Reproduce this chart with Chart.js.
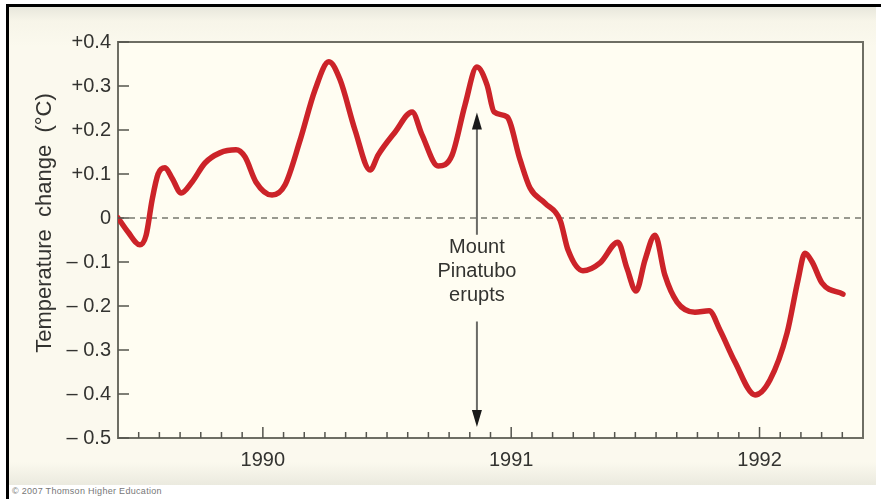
<!DOCTYPE html>
<html>
<head>
<meta charset="utf-8">
<script src="https://cdn.jsdelivr.net/npm/chart.js@4.4.1/dist/chart.umd.min.js"></script>
<style>
html, body { margin: 0; padding: 0; background: #fff; }
#wrap { position: relative; width: 881px; height: 499px; overflow: hidden; }
#frame { position: absolute; left: 6px; top: 4px; width: 875px; height: 495px; border-left: 3px solid #000; border-top: 3px solid #000; }
#panel { position: absolute; left: 9px; top: 7px; width: 867px; height: 478px;
  background: linear-gradient(#e8e7dc 0px, #f7f5e9 14px, #fbf9ee 40px, #fbf9ee 455px, #ebeadf 478px); }
#copy { position: absolute; left: 12px; top: 486px; font: 9px "Liberation Sans", Arial, sans-serif; color: #777; letter-spacing: 0.3px; }
canvas { position: absolute; left: 0; top: 0; }
</style>
</head>
<body>
<div id="wrap">
  <div id="frame"></div>
  <div id="panel"></div>
  <div id="copy">© 2007 Thomson Higher Education</div>
  <canvas id="chart" width="881" height="499"></canvas>
</div>
<script>
// curve: decimal year / temperature change (°C)
const years = [
  1989.417, 1989.457, 1989.505, 1989.530, 1989.554, 1989.578, 1989.606, 1989.634,
  1989.671, 1989.715, 1989.767, 1989.827, 1989.892, 1989.928, 1989.972, 1990.037,
  1990.089, 1990.150, 1990.210, 1990.266, 1990.311, 1990.371, 1990.432, 1990.464,
  1990.532, 1990.601, 1990.641, 1990.706, 1990.762, 1990.814, 1990.862, 1990.903,
  1990.931, 1990.983, 1991.036, 1991.076, 1991.136, 1991.197, 1991.229, 1991.289,
  1991.358, 1991.430, 1991.466, 1991.503, 1991.539, 1991.579, 1991.619, 1991.668,
  1991.740, 1991.797, 1991.841, 1991.901, 1991.982, 1992.042, 1992.111, 1992.155,
  1992.183, 1992.212, 1992.252, 1992.336
];
const temps = [
  0.000, -0.032, -0.061, -0.039, 0.041, 0.100, 0.114, 0.091,
  0.057, 0.082, 0.125, 0.148, 0.155, 0.139, 0.082, 0.052,
  0.075, 0.177, 0.291, 0.355, 0.314, 0.200, 0.109, 0.143,
  0.195, 0.241, 0.189, 0.118, 0.143, 0.257, 0.343, 0.302,
  0.241, 0.230, 0.132, 0.068, 0.034, -0.005, -0.073, -0.120,
  -0.102, -0.055, -0.114, -0.166, -0.095, -0.039, -0.130, -0.191,
  -0.214, -0.211, -0.255, -0.327, -0.402, -0.368, -0.261, -0.141,
  -0.080, -0.100, -0.148, -0.173
];

const yearTicks = [1990, 1991, 1992];
const yearLabels = ['1990', '1991', '1992'];
const yTickValues = [0.4, 0.3, 0.2, 0.1, 0, -0.1, -0.2, -0.3, -0.4, -0.5];
const yTickLabels = ['+0.4', '+0.3', '+0.2', '+0.1', '0', '\u2013 0.1', '\u2013 0.2', '\u2013 0.3', '\u2013 0.4', '\u2013 0.5'];

const xMin = 1989.4167;
const xMax = 1992.4167;
const eruptYear = 1990.862;
const noteLines = ['Mount', 'Pinatubo', 'erupts'];
const yTitle = 'Temperature  change  (\u00b0C)';

const FONT = '"Liberation Sans", Arial, Helvetica, sans-serif';
const axisColor = '#6e6e64';
const textColor = '#333330';

function arrowHead(ctx, x, y, dir) {
  ctx.beginPath();
  ctx.moveTo(x, y);
  ctx.lineTo(x - 5, y - dir * 17);
  ctx.lineTo(x + 5, y - dir * 17);
  ctx.closePath();
  ctx.fill();
}

const decor = {
  id: 'decor',
  beforeDraw(chart) {
    const { ctx, chartArea: a } = chart;
    ctx.save();
    ctx.fillStyle = '#fffdf2';
    ctx.fillRect(a.left, a.top, a.right - a.left, a.bottom - a.top);
    ctx.restore();
  },
  beforeDatasetsDraw(chart) {
    const { ctx, chartArea: a, scales: { y } } = chart;
    const y0 = y.getPixelForValue(0);
    ctx.save();
    ctx.strokeStyle = '#78786f';
    ctx.lineWidth = 1.5;
    ctx.setLineDash([6, 5]);
    ctx.beginPath();
    ctx.moveTo(a.left, y0);
    ctx.lineTo(a.right, y0);
    ctx.stroke();
    ctx.restore();
  },
  afterDatasetsDraw(chart) {
    const { ctx, scales: { x, y } } = chart;
    const ax = x.getPixelForValue(eruptYear);
    ctx.save();
    // arrows
    ctx.strokeStyle = '#6a6a66';
    ctx.fillStyle = '#1a1a1a';
    ctx.lineWidth = 2;
    const upTip = y.getPixelForValue(0.24);
    const downTip = y.getPixelForValue(-0.475);
    ctx.beginPath();
    ctx.moveTo(ax, y.getPixelForValue(-0.038));
    ctx.lineTo(ax, upTip + 10);
    ctx.moveTo(ax, y.getPixelForValue(-0.235));
    ctx.lineTo(ax, downTip - 10);
    ctx.stroke();
    arrowHead(ctx, ax, upTip, -1);
    arrowHead(ctx, ax, downTip, 1);
    // label
    ctx.fillStyle = textColor;
    ctx.font = '20px ' + FONT;
    ctx.textAlign = 'center';
    ctx.textBaseline = 'middle';
    const ly = y.getPixelForValue(-0.068);
    noteLines.forEach((t, i) => ctx.fillText(t, ax, ly + i * 24));
    ctx.restore();
  },
  afterDraw(chart) {
    const { ctx, chartArea: a, scales: { x, y } } = chart;
    ctx.save();
    // top and right edges of the box
    ctx.strokeStyle = axisColor;
    ctx.lineWidth = 2;
    ctx.beginPath();
    ctx.moveTo(a.left, a.top);
    ctx.lineTo(a.right, a.top);
    ctx.lineTo(a.right, a.bottom);
    ctx.stroke();
    // inward tick marks
    ctx.strokeStyle = '#55554e';
    ctx.lineWidth = 1.5;
    ctx.beginPath();
    x.ticks.forEach(t => {
      const px = x.getPixelForValue(t.value);
      const major = yearTicks.some(v => Math.abs(v - t.value) < 0.01);
      ctx.moveTo(px, a.bottom);
      ctx.lineTo(px, a.bottom - (major ? 11 : 6));
    });
    y.ticks.forEach(t => {
      const py = y.getPixelForValue(t.value);
      ctx.moveTo(a.left, py);
      ctx.lineTo(a.left + 11, py);
    });
    ctx.stroke();
    // y axis title
    ctx.fillStyle = textColor;
    ctx.font = '22px ' + FONT;
    ctx.textAlign = 'center';
    ctx.textBaseline = 'middle';
    ctx.translate(a.left - 73, (a.top + a.bottom) / 2 - 17);
    ctx.rotate(-Math.PI / 2);
    ctx.fillText(yTitle, 0, 0);
    ctx.restore();
  }
};

const ctx = document.getElementById('chart').getContext('2d');
new Chart(ctx, {
  type: 'line',
  data: {
    datasets: [{
      data: years.map((v, i) => ({ x: v, y: temps[i] })),
      borderColor: '#cc2329',
      borderWidth: 5.5,
      borderCapStyle: 'round',
      borderJoinStyle: 'round',
      pointRadius: 0,
      cubicInterpolationMode: 'monotone',
      fill: false
    }]
  },
  options: {
    responsive: false,
    animation: false,
    devicePixelRatio: 1,
    layout: { padding: { left: 0, top: 42, right: 18, bottom: 0 } },
    plugins: { legend: { display: false }, tooltip: { enabled: false } },
    scales: {
      x: {
        type: 'linear',
        min: xMin,
        max: xMax,
        grid: { display: false, drawTicks: false },
        border: { display: true, color: axisColor, width: 2 },
        afterBuildTicks(s) {
          const t = [];
          for (let i = 1; i < 36; i++) t.push({ value: xMin + i / 12 });
          s.ticks = t;
        },
        afterFit(s) { s.height = 61; },
        ticks: {
          autoSkip: false,
          maxRotation: 0,
          padding: 10,
          color: textColor,
          font: { family: FONT, size: 20 },
          callback(v) {
            const i = yearTicks.findIndex(t => Math.abs(t - v) < 0.01);
            return i >= 0 ? yearLabels[i] : '';
          }
        }
      },
      y: {
        min: -0.5,
        max: 0.4,
        grid: { display: false, drawTicks: false },
        border: { display: true, color: axisColor, width: 2 },
        afterBuildTicks(s) { s.ticks = yTickValues.map(v => ({ value: v })); },
        afterFit(s) { s.width = 118; },
        ticks: {
          padding: 7,
          color: textColor,
          font: { family: FONT, size: 20 },
          callback(v) {
            const i = yTickValues.findIndex(t => Math.abs(t - v) < 0.001);
            return i >= 0 ? yTickLabels[i] : '';
          }
        }
      }
    }
  },
  plugins: [decor]
});
</script>
</body>
</html>
